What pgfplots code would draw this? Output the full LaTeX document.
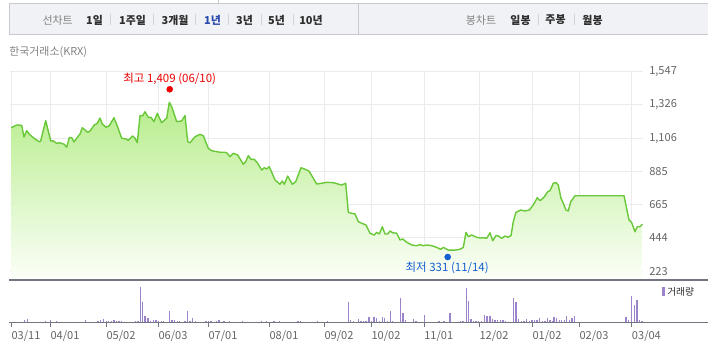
\documentclass[border=0pt]{standalone}
\usepackage{fontspec}
\setmainfont{Noto Sans CJK KR}
\usepackage{pgfplots}
\usepackage{pgfplotstable}
\pgfplotsset{compat=1.18}
\definecolor{linegreen}{RGB}{104,200,56}
\definecolor{filltop}{RGB}{183,237,140}
\definecolor{fillbot}{RGB}{252,255,249}
\definecolor{gridgray}{RGB}{235,235,235}
\definecolor{volpurple}{RGB}{155,132,204}
\definecolor{axisgray}{RGB}{115,118,126}
\definecolor{ticktext}{RGB}{100,100,100}
\definecolor{boxfill}{RGB}{241,242,246}
\definecolor{boxborder}{RGB}{200,201,205}
\definecolor{sepgray}{RGB}{210,211,215}
\definecolor{hired}{RGB}{235,0,0}
\definecolor{loblue}{RGB}{20,95,210}
\definecolor{selblue}{RGB}{40,75,170}
\definecolor{darktext}{RGB}{45,45,45}
\definecolor{lighttext}{RGB}{130,130,130}
\newcommand\fs[1]{\fontsize{#1}{#1}\selectfont}

% x = position along the time axis (chart pixels), y = closing price
\pgfplotstableread{
x y
11.3 1175
16.7 1193
21.7 1191
24 1113
26.7 1155
30 1127
35 1100
39.3 1082
40.7 1087
45.7 1222
50.7 1087
53.3 1087
56.7 1071
59.3 1075
64.3 1065
66.7 1045
69.3 1109
71.7 1109
74 1080
77.3 1111
80 1133
82.3 1175
85 1160
87.7 1144
90 1153
94.3 1193
97.3 1204
100 1239
102.3 1200
106 1178
109.3 1188
114 1241
117.3 1186
121.7 1105
126 1100
128.3 1091
132.7 1120
135 1105
137.3 1075
140 1255
142.7 1255
145 1281
148.3 1244
151 1244
154 1215
157.3 1271
159.3 1241
161.7 1208
165.7 1233
166.7 1237
169.3 1344
171.7 1315
176.7 1215
181.7 1220
185 1256
187.7 1082
190 1075
195 1115
200 1131
203.3 1122
208.3 1038
211.7 1022
220 1012
225 1012
227.3 1005
230 982
233.3 1005
237.7 994
243.3 932
245.7 949
248.3 989
251 965
254.3 965
257.7 939
261.7 894
264.3 909
266.7 901
269.3 916
275 828
280 799
282.3 821
284.3 799
287.7 854
292.3 799
295.7 816
301 909
304.3 901
309 887
316.7 801
321.7 806
326.7 812
333.3 810
341.7 794
345.7 806
348.3 613
351.7 606
355 602
358.3 551
361.7 540
366 529
370 474
374 462
376.7 480
379.3 469
382.3 517
385 469
387.7 469
390 489
392.7 477
396.7 474
400 429
402.7 436
406.7 414
411.7 396
416.7 391
420 398
423.3 391
426.7 396
431.7 391
436.7 380
440.7 367
443.3 380
448.3 362
455 362
460 367
463.3 380
466 480
468.3 451
471.7 462
476.7 447
480 442
483.3 444
486.7 440
490 477
492.7 424
496 458
498.3 456
501.7 440
505 456
507.7 447
511 458
513.3 551
516 613
520.7 628
525 622
529.3 628
533.3 662
537.3 710
540 690
544 713
547.7 750
550 757
553.3 806
556 810
558.3 794
561 706
563.3 673
566 628
568.3 622
570.7 683
575 723
624 723
629 562
631.7 544
635 484
637.3 517
640 517
642.7 535
}\pricetable

% x = position along the time axis, v = trading volume (relative units)
\pgfplotstableread{
x v
12 7
14.7 7
17.3 7
19.7 7
22 7
24.7 27
27.3 37
29.7 7
32.3 7
43 7
45.3 17
48 7
50.3 27
53 7
56.3 17
64.7 7
67.3 7
69.7 7
72 7
74.7 7
77.3 7
79.7 7
82 7
85.3 27
88 7
90.7 7
93.3 7
95.3 7
98 20
100.7 27
103.3 37
106.3 20
108.7 17
111.3 17
114 27
116.7 20
119 20
121.3 20
124 10
126.7 10
129 7
135.3 13
138 20
140.3 353
142.3 207
145 67
148 43
150.7 20
153.3 27
156 27
158.7 20
161.3 20
163.7 20
166.7 7
169.7 113
172 27
174.7 27
177.3 20
179.7 20
182.3 7
185 20
187.3 113
190 20
192.3 47
195.3 17
198 7
200.7 7
203.3 7
206 17
208.3 17
211 17
214 7
216.3 13
219 27
221.7 10
224 17
226.7 7
229.3 17
232 7
240.7 7
242.7 17
245.3 7
248 7
250.7 7
256.3 7
261.3 17
264 7
266.3 17
269 7
271.3 7
274 17
276.7 7
279.3 17
282 7
284.7 7
287.3 7
290 7
292.7 7
295.3 7
298 17
300.7 17
303.3 7
305.7 7
312 7
314.7 7
317.3 17
319.7 7
327.3 17
337.3 7
345 7
348.3 207
350.7 27
353.3 17
355.7 7
358.3 37
361 20
363.7 20
366 17
369 57
371.3 17
374 57
376.7 47
379.3 20
382.3 57
384.3 47
387.3 20
390.3 117
392.7 20
395 7
397.7 7
400.3 247
403 93
405.7 27
408 7
411 7
413.3 37
416 17
418.3 7
421 7
424.3 77
426.7 7
429 7
431.7 7
434 7
436.7 7
439 17
441.7 7
444 17
447.3 7
450 93
452 7
455 7
457.7 7
460.3 17
463 17
466.3 347
468.3 220
471 37
473.7 20
476 20
478.7 17
481.7 17
484.3 77
487 67
490 67
492.3 37
495 27
497.7 27
500.3 27
503 27
505.7 17
508.3 7
510.7 7
513.3 247
516 207
518.7 37
521.3 20
524 20
526.7 37
529.3 20
532 27
534.3 27
537 27
539.7 47
542.3 20
545 20
547.3 47
550 27
552.3 20
554 57
556.7 47
559.3 27
561.7 27
564.3 27
566.7 67
569.3 27
572 47
574.7 67
626 57
628.3 27
631.3 267
634.3 180
637 227
639.7 27
642 17
}\voltable

\begin{document}
\begin{tikzpicture}[x=0.75pt,y=0.75pt]
\useasboundingbox (0,0) rectangle (708,364);
% ---- toolbar ----
\draw[boxborder, fill=boxfill, line width=0.75pt] (9,360.7) rectangle (714,329.7);
\draw[boxborder, line width=0.75pt] (358,360.7) -- (358,329.7);
\draw[boxborder, line width=0.75pt] (218,364) -- (218,360.7);
\begin{scope}[every node/.style={font=\fs{8.2}, inner sep=0pt, anchor=center}]
\node[text=lighttext] at (57.7,344) {선차트};
\node[text=darktext, font=\fs{8.2}\bfseries] at (94.5,344) {1일};
\node[text=darktext, font=\fs{8.2}\bfseries] at (132.5,344) {1주일};
\node[text=darktext, font=\fs{8.2}\bfseries] at (175,344) {3개월};
\node[text=selblue, font=\fs{8.2}\bfseries] at (212.5,344) {1년};
\node[text=darktext, font=\fs{8.2}\bfseries] at (244.5,344) {3년};
\node[text=darktext, font=\fs{8.2}\bfseries] at (276.5,344) {5년};
\node[text=darktext, font=\fs{8.2}\bfseries] at (311,344) {10년};
\node[text=lighttext] at (481,344) {봉차트};
\node[text=darktext, font=\fs{8.2}\bfseries] at (520.5,344) {일봉};
\node[text=darktext, font=\fs{8.2}\bfseries] at (555.5,344) {주봉};
\node[text=darktext, font=\fs{8.2}\bfseries] at (592.5,344) {월봉};
\end{scope}
\foreach \sx in {110,153,195.5,228,261,293,538,574}
  \draw[sepgray, line width=0.6pt] (\sx,350) -- (\sx,339);
\node[text=lighttext, font=\fs{8.2}, inner sep=0pt, anchor=west] at (9,312) {한국거래소(KRX)};

% ---- price panel ----
\begin{axis}[
  at={(7.5pt,63pt)}, anchor=south west,
  scale only axis, width=474.75pt, height=156.225pt,
  xmin=10, xmax=643, ymin=163.3, ymax=1547,
  axis line style={draw=none},
  major tick length=0pt,
  xtick={11.3,50.3,106.3,158.3,208.3,269.3,324.3,371.3,424,479.3,532.3,579.3,631.7},
  xticklabels={},
  ytick={222.4,443.2,664,884.8,1105.6,1326.4,1547},
  yticklabels={223,444,665,885,{1,106},{1,326},{1,547}},
  yticklabel pos=right,
  yticklabel style={anchor=west, inner sep=0pt, xshift=4.5pt, font=\fs{8.3}, text=ticktext},
  grid=major,
  major grid style={gridgray, line width=0.75pt},
]
\addplot[draw=none, top color=filltop, bottom color=fillbot, forget plot] table[x=x,y=y] {\pricetable} \closedcycle;
\addplot[draw=linegreen, line width=1.05pt, line join=round, forget plot] table[x=x,y=y] {\pricetable};
\addplot[only marks, mark=*, mark size=2.25pt, color=hired, mark options={yshift=2.4pt}, forget plot] coordinates {(169.7,1409)};
\addplot[only marks, mark=*, mark size=2.25pt, color=loblue, mark options={yshift=-1.7pt}, forget plot] coordinates {(447.7,331)};
\node[text=hired, font=\fs{8.6}, inner sep=0pt, yshift=10.1pt] at (axis cs:169.7,1409) {최고 1,409 (06/10)};
\node[text=loblue, font=\fs{8.6}, inner sep=0pt, yshift=-10.2pt] at (axis cs:447.2,331) {최저 331 (11/14)};
\end{axis}

% ---- volume panel ----
\begin{axis}[
  at={(6.75pt,30.975pt)}, anchor=south west,
  scale only axis, width=524.25pt, height=32.025pt,
  xmin=9, xmax=708, ymin=0, ymax=427,
  axis line style={draw=none},
  ytick=\empty,
  xtick={11.3,50.3,106.3,158.3,208.3,269.3,324.3,371.3,424,479.3,532.3,579.3,631.7},
  xticklabels={03/11,04/01,05/02,06/03,07/01,08/01,09/02,10/02,11/01,12/02,01/02,02/03,03/04},
  xtick pos=left,
  tick align=outside,
  major tick length=3pt,
  tick style={axisgray, line width=0.75pt},
  xticklabel style={anchor=west, inner sep=0pt, yshift=-7.3pt, font=\fs{8.3}, text=ticktext},
]
\addplot[ycomb, draw=volpurple, line width=0.8pt, forget plot] table[x=x,y=v] {\voltable};
\draw[axisgray, line width=0.9pt] (rel axis cs:0,0) -- (rel axis cs:1,0);
\draw[axisgray, line width=1.1pt] (rel axis cs:0,1) -- (rel axis cs:1,1);
\end{axis}

% volume legend
\fill[volpurple] (661.7,77) rectangle (664.7,68);
\node[text=darktext, font=\fs{7.3}, inner sep=0pt, anchor=west] at (667,72) {거래량};
\end{tikzpicture}
\end{document}
